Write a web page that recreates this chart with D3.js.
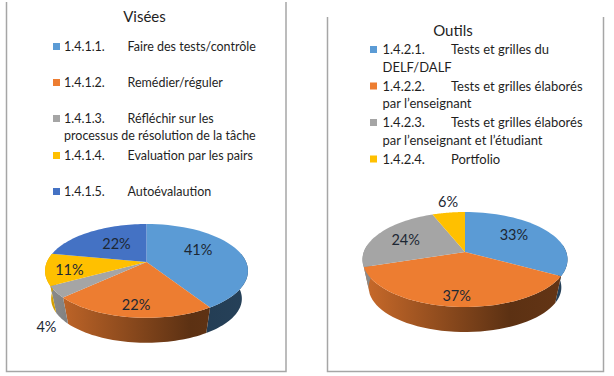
<!DOCTYPE html>
<html>
<head>
<meta charset="utf-8">
<script src="https://cdnjs.cloudflare.com/ajax/libs/d3/7.8.5/d3.min.js"></script>
<style>
  html, body { margin: 0; padding: 0; background: #fff; }
  svg { display: block; }
  text { font-family: Lato, "Open Sans", sans-serif; fill: #1f1f1f; }
</style>
</head>
<body>
<div id="chart"></div>
<script>
// DATA
const viseesNums = ["1.4.1.1.", "1.4.1.2.", "1.4.1.3.", "1.4.1.4.", "1.4.1.5."]
const viseesLabels = ["Faire des tests/contrôle", "Remédier/réguler", "Réfléchir sur les", "Evaluation par les pairs", "Autoévalaution"]
const viseesWrapped = ["", "", "processus de résolution de la tâche", "", ""]
const viseesValues = [41, 22, 4, 11, 22]

const outilsNums = ["1.4.2.1.", "1.4.2.2.", "1.4.2.3.", "1.4.2.4."]
const outilsLabels = ["Tests et grilles du", "Tests et grilles élaborés", "Tests et grilles élaborés", "Portfolio"]
const outilsWrapped = ["DELF/DALF", "par l’enseignant", "par l’enseignant et l’étudiant", ""]
const outilsValues = [33, 37, 24, 6]

const colors = ["#5b9bd5", "#ed7d31", "#a5a5a5", "#ffc000", "#4472c4"]

const svg = d3.select("#chart")
    .append("svg")
    .attr("width", 614)
    .attr("height", 376)

const defs = svg.append("defs")

// PANEL OUTLINES (no top edge on either)
function outline(x0, x1, y0, y1) {
    svg.append("path")
        .attr("d", d3.line()([[x0, y0], [x0, y1], [x1, y1], [x1, y0]]))
        .attr("fill", "none")
        .attr("stroke", "#a6a6a6")
        .attr("stroke-width", 1.5)
}
outline(6.5, 286, 2, 371.5)
outline(327.5, 603.5, 17, 371.5)

// LEGEND
function legend(o) {
    svg.append("text")
        .text(o.title)
        .attr("x", o.titleX)
        .attr("y", o.titleY)
        .attr("text-anchor", "middle")
        .attr("font-size", 15)

    o.nums.forEach((n, i) => {
        svg.append("rect")
            .attr("x", o.markX)
            .attr("y", o.rows[i] - 8)
            .attr("width", 7)
            .attr("height", 7)
            .attr("fill", colors[i])
        svg.append("text").text(n)
            .attr("x", o.numX).attr("y", o.rows[i]).attr("font-size", o.fontSize)
        svg.append("text").text(o.labels[i])
            .attr("x", o.textX).attr("y", o.rows[i]).attr("font-size", o.fontSize)
        if (o.wrapped[i]) {
            svg.append("text").text(o.wrapped[i])
                .attr("x", o.numX).attr("y", o.rows[i] + o.wrapGap).attr("font-size", o.fontSize)
        }
    })
}

legend({
    title: "Visées", titleX: 144.5, titleY: 22,
    nums: viseesNums, labels: viseesLabels, wrapped: viseesWrapped,
    markX: 53, numX: 64, textX: 127.5, fontSize: 12.5,
    rows: [51, 87, 123, 160, 196], wrapGap: 16.5
})
legend({
    title: "Outils", titleX: 453, titleY: 36,
    nums: outilsNums, labels: outilsLabels, wrapped: outilsWrapped,
    markX: 370, numX: 382.5, textX: 451, fontSize: 13,
    rows: [54, 90.5, 127, 163.5], wrapGap: 17.5
})

// PIE, tilted with a bit of perspective so the apex sits above the ellipse middle
function drawPie(o) {
    const project = (theta, r, level) => {
        const u = r * Math.sin(theta)
        const v = -r * Math.cos(theta)
        const s = 1 / (1 - o.k * v)
        const x = u * s * o.rx
        const y = v * s * o.ry
        return level
            ? [o.cx + x * o.shrink, o.cy + o.depth + y * o.shrink]
            : [o.cx + x, o.cy + y]
    }
    const line = d3.line()
    const arcs = d3.pie().sort(null)(o.values)
    const samples = (a0, a1) => d3.range(0, 41).map(i => a0 + (a1 - a0) * i / 40)

    // side wall only shows on the near half
    const visStart = Math.PI / 2 - Math.asin(o.k)
    const visEnd = 2 * Math.PI - visStart

    const g = svg.append("g")

    arcs.forEach((d, i) => {
        const a0 = Math.max(d.startAngle, visStart)
        const a1 = Math.min(d.endAngle, visEnd)
        if (a1 <= a0) return

        const id = o.id + "-wall-" + i
        const c = d3.rgb(colors[i])
        const shade = m => d3.rgb(c.r * m, c.g * m, c.b * m).formatHex()
        const grad = defs.append("linearGradient")
            .attr("id", id)
            .attr("gradientUnits", "userSpaceOnUse")
            .attr("x1", o.cx - o.rx).attr("x2", o.cx + o.rx)
            .attr("y1", 0).attr("y2", 0)
        grad.append("stop").attr("offset", 0).attr("stop-color", shade(0.85))
        grad.append("stop").attr("offset", 0.72).attr("stop-color", shade(0.39))
        grad.append("stop").attr("offset", 1).attr("stop-color", shade(0.42))

        const top = samples(a0, a1).map(t => project(t, 1, 0))
        const bottom = samples(a1, a0).map(t => project(t, 1, 1))
        g.append("path")
            .attr("d", line(top.concat(bottom)) + "Z")
            .attr("fill", "url(#" + id + ")")
    })

    arcs.forEach((d, i) => {
        const pts = [project(0, 0, 0)].concat(samples(d.startAngle, d.endAngle).map(t => project(t, 1, 0)))
        g.append("path")
            .attr("d", line(pts) + "Z")
            .attr("fill", colors[i])
    })

    // DATA LABELS
    arcs.forEach((d, i) => {
        const mid = (d.startAngle + d.endAngle) / 2
        const p = project(mid, o.labelR[i], 0)
        g.append("text")
            .text(d.value + "%")
            .attr("x", p[0] + o.nudge[i][0])
            .attr("y", p[1] + o.nudge[i][1])
            .attr("text-anchor", "middle")
            .attr("dominant-baseline", "central")
            .attr("font-size", 14.5)
            .style("fill", "#1c2733")
    })
}

drawPie({
    id: "visees", values: viseesValues,
    cx: 146.5, cy: 262, rx: 99.6, ry: 45.2, k: 0.19, depth: 28.3, shrink: 0.94,
    labelR: [0.6, 0.6, 1.25, 0.6, 0.6],
    nudge: [[-4, -5], [-2, 12], [17, 26], [-17, 3], [5, 1]]
})
drawPie({
    id: "outils", values: outilsValues,
    cx: 465, cy: 252, rx: 101.2, ry: 46.3, k: 0.158, depth: 28.3, shrink: 0.94,
    labelR: [0.6, 0.6, 0.6, 1.25],
    nudge: [[-1, -4.5], [-2, 12.5], [-6.5, -0.7], [3, -2.5]]
})
</script>
</body>
</html>
